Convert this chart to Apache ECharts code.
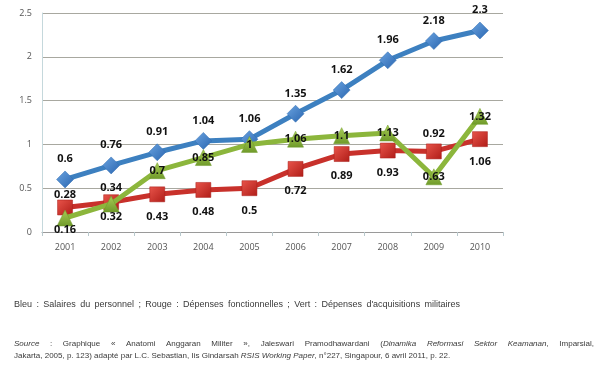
<!DOCTYPE html>
<html><head><meta charset="utf-8">
<script src="https://cdn.jsdelivr.net/npm/echarts@6/dist/echarts.min.js"></script>
<style>html,body{margin:0;padding:0;background:#fff}#c{width:597px;height:369px}</style>
</head><body><div id="c"></div>
<script>
const years = ['2001','2002','2003','2004','2005','2006','2007','2008','2009','2010'];
const blue = [0.6,0.76,0.91,1.04,1.06,1.35,1.62,1.96,2.18,2.3];
const red = [0.28,0.34,0.43,0.48,0.5,0.72,0.89,0.93,0.92,1.06];
const green = [0.16,0.32,0.7,0.85,1,1.06,1.1,1.13,0.63,1.32];
const yTicks = ['0','0.5','1','1.5','2','2.5'];
const legendLine = [["Bleu : Salaires du personnel ; Rouge : Dépenses fonctionnelles ; Vert : Dépenses d'acquisitions militaires",false]];
const srcLine1 = [["Source",true],[" : Graphique « Anatomi Anggaran Militer », Jaleswari Pramodhawardani (",false],["Dinamika Reformasi Sektor Keamanan",true],[", Imparsial,",false]];
const srcLine2 = [["Jakarta, 2005, p. 123) adapté par L.C. Sebastian, Iis Gindarsah ",false],["RSIS Working Paper",true],[", n°227, Singapour, 6 avril 2011, p. 22.",false]];

const chart = echarts.init(document.getElementById('c'));
const lblFont = {fontFamily:'Open Sans, sans-serif', fontSize:11, fontWeight:'bold', color:'#111'};
function mk(vals, fn){ return vals.map((v,i)=>{ const o={value:v}; const l=fn(i); if(l) o.label=l; return o; }); }

const FF = 'Liberation Sans, Arial, sans-serif';
const cv = document.createElement('canvas').getContext('2d');
function w(t,it,fs){ cv.font=(it?'italic ':'')+fs+'px '+FF; return cv.measureText(t).width; }
const graphics = [];
function addText(t,x,y,it,fs){ graphics.push({type:'text',x:x,y:y,style:{text:t,font:(it?'italic ':'')+fs+'px '+FF,fill:'#3a3a3a',textVerticalAlign:'middle'}}); }
function justify(parts,x0,x1,y,fs){
  const words=[];
  parts.forEach(([t,it])=>{ t.split(/( )/).forEach(p=>{ if(p===' ') words.push(null); else if(p) words.push([p,it]); }); });
  const toks=[]; let cur=null;
  words.forEach(wd=>{ if(wd===null){ if(cur){toks.push(cur);cur=null;} } else { if(!cur) cur=[]; cur.push(wd);} });
  if(cur) toks.push(cur);
  const widths=toks.map(tk=>tk.reduce((s,[t,it])=>s+w(t,it,fs),0));
  const total=widths.reduce((a,b)=>a+b,0);
  const gap=(x1-x0-total)/(toks.length-1);
  let x=x0;
  toks.forEach((tk,i)=>{ let xx=x; tk.forEach(([t,it])=>{ addText(t,xx,y,it,fs); xx+=w(t,it,fs); }); x+=widths[i]+gap; });
}
justify(legendLine,14,460,305,9);
justify(srcLine1,14,594,344,8);
(function(){ let x=14; srcLine2.forEach(([t,it])=>{ addText(t,x,356,it,8); x+=w(t,it,8); }); })();

chart.setOption({
  animation:false,
  grid:{left:42,right:94,top:13,bottom:137},
  xAxis:{type:'category',data:years,boundaryGap:true,
    axisLine:{lineStyle:{color:'#9a9a9a',width:1}},
    axisTick:{show:true,length:4,lineStyle:{color:'#b8c8cc'}},
    axisLabel:{color:'#555',fontSize:9,fontFamily:'Open Sans, sans-serif',margin:11},
    splitLine:{show:false}},
  yAxis:{type:'value',min:0,max:2.5,interval:0.5,
    axisLine:{show:true,lineStyle:{color:'#c5d8dc'}},
    axisTick:{show:false},
    axisLabel:{color:'#555',fontSize:9,fontFamily:'Open Sans, sans-serif',margin:10,formatter:v=>yTicks[Math.round(v/0.5)]},
    splitLine:{lineStyle:{color:'#a8a8a0',width:1}}},
  series:[
    {name:'Bleu',type:'line',data:blue,symbol:'diamond',symbolSize:17,
      lineStyle:{color:'#3d80c0',width:5},
      itemStyle:{color:new echarts.graphic.LinearGradient(0,0,1,1,[{offset:0,color:'#6aa3e0'},{offset:1,color:'#2a66b0'}]),borderColor:'#2f6db3',borderWidth:0.5},
      label:{show:true,position:'top',distance:6,...lblFont},z:3},
    {name:'Rouge',type:'line',data:mk(red,i=>{ if(i===0) return {position:'top',distance:-1}; if(i===1) return {position:'top',distance:1}; if(i===8) return {position:'top',distance:4}; return null;}),
      symbol:'rect',symbolSize:15,
      lineStyle:{color:'#c8312b',width:5},
      itemStyle:{color:new echarts.graphic.LinearGradient(0,0,1,1,[{offset:0,color:'#e8544a'},{offset:1,color:'#b01d18'}]),borderColor:'#a81c18',borderWidth:0.5},
      label:{show:true,position:'bottom',distance:9,...lblFont},z:4},
    {name:'Vert',type:'line',data:mk(green,i=>{ if(i===0) return {position:'bottom',distance:-2}; if(i===1) return {position:'bottom',distance:-1}; return null;}),
      symbol:'triangle',symbolSize:16,
      lineStyle:{color:'#8cb63c',width:5},
      itemStyle:{color:new echarts.graphic.LinearGradient(0,0,0,1,[{offset:0,color:'#a8cc55'},{offset:1,color:'#6f9a2a'}]),borderColor:'#6f9a2a',borderWidth:0.5},
      label:{show:true,position:'inside',...lblFont},z:5}
  ],
  graphic:graphics
});
</script></body></html>
